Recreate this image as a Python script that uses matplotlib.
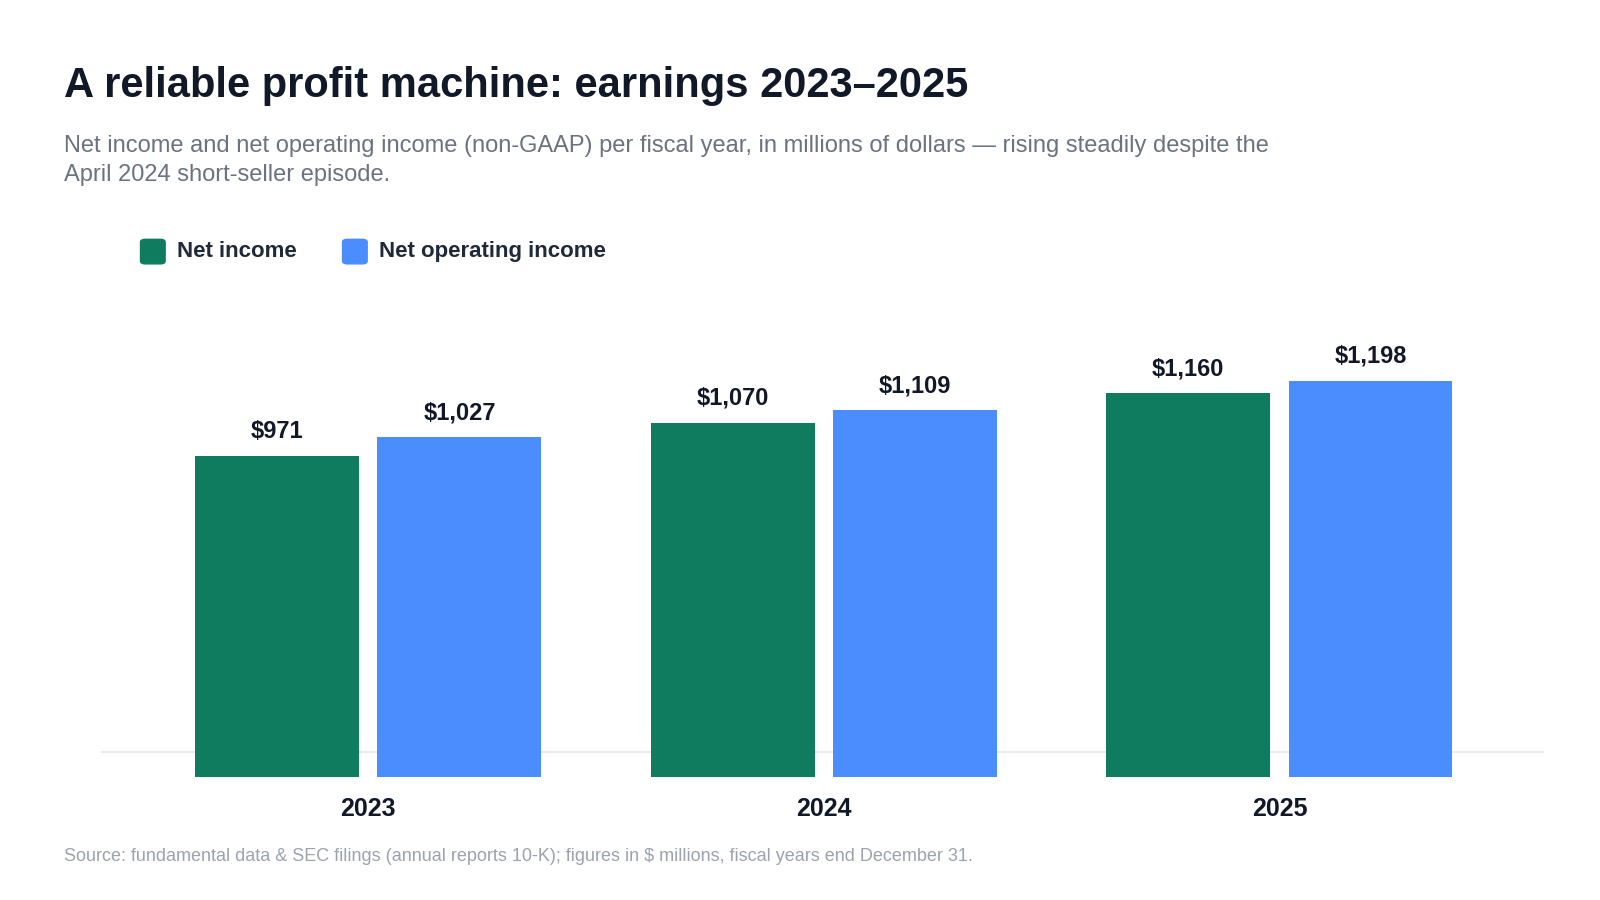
import matplotlib.pyplot as plt
from matplotlib.patches import FancyBboxPatch
import numpy as np

years = ["2023", "2024", "2025"]
net_income = [971, 1070, 1160]
net_operating_income = [1027, 1109, 1198]

GREEN = "#0f7b5f"
BLUE = "#4b8dff"

plt.rcParams["font.family"] = ["Liberation Sans", "DejaVu Sans"]

fig = plt.figure(figsize=(16, 9), dpi=100)
W, H = 1560, 880


def fx(px):
    return px / W


def fy(py):
    return 1 - py / H


ax = fig.add_axes([fx(98), fy(760), fx(1505) - fx(98), fy(307) - fy(760)])
x = np.arange(len(years))
off, w = 0.2, 0.36
b1 = ax.bar(x - off, net_income, w, color=GREEN, zorder=3)
b2 = ax.bar(x + off, net_operating_income, w, color=BLUE, zorder=3)
for bars in (b1, b2):
    for r in bars:
        v = r.get_height()
        ax.text(r.get_x() + r.get_width() / 2, v + 40, f"${v:,.0f}",
                ha="center", va="bottom", fontsize=17, fontweight="bold",
                color="#111827")
ax.set_xlim(-0.588, 2.58)
ax.set_ylim(0, 1400)
ax.set_xticks(x)
ax.set_xticklabels(years, fontsize=18, fontweight="bold", color="#111827")
ax.tick_params(axis="x", length=0, pad=14)
ax.set_yticks([])
for s in ax.spines.values():
    s.set_visible(False)
ax.axhline(77, color="#e5e7eb", lw=1.2, zorder=1)

fig.text(fx(62), fy(84), "A reliable profit machine: earnings 2023\u20132025",
         fontsize=30, fontweight="bold", color="#111827", va="center")
fig.text(fx(62), fy(157),
         "Net income and net operating income (non-GAAP) per fiscal year, in millions of dollars \u2014 rising steadily despite the\nApril 2024 short-seller episode.",
         fontsize=17, color="#6b7280", va="center", linespacing=1.45)

for px, col, lab in [(137, GREEN, "Net income"), (334, BLUE, "Net operating income")]:
    fig.patches.append(FancyBboxPatch((fx(px), fy(258)), fx(24), fy(234) - fy(258),
                                      boxstyle="round,pad=0,rounding_size=0.003",
                                      transform=fig.transFigure, color=col))
    fig.text(fx(px + 36), fy(246), lab, fontsize=16, fontweight="bold",
             color="#1f2937", va="center")

fig.text(fx(62), fy(837),
         "Source: fundamental data & SEC filings (annual reports 10-K); figures in $ millions, fiscal years end December 31.",
         fontsize=13, color="#9ca3af", va="center")

fig.savefig("out.png", dpi=100, facecolor="white")
